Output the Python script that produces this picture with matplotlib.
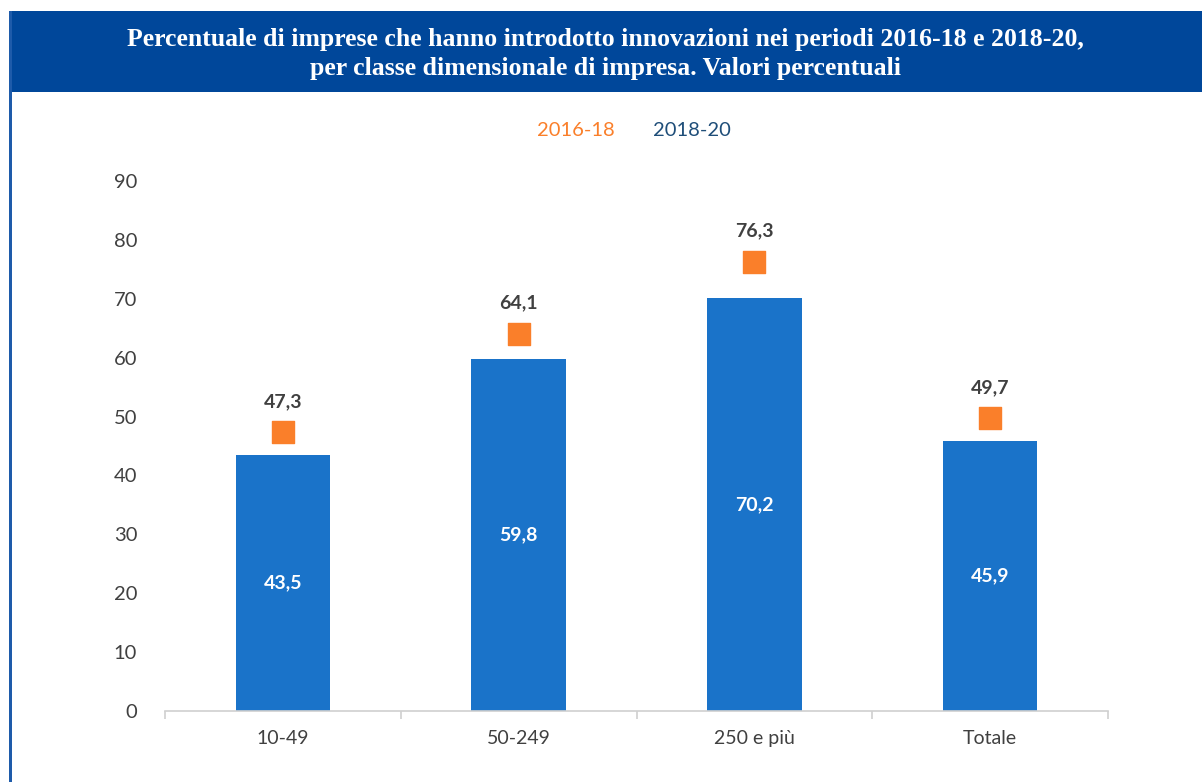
import matplotlib.pyplot as plt
from matplotlib.patches import Rectangle
import numpy as np

# Data
categories = ["10-49", "50-249", "250 e più", "Totale"]
val_2016_18 = [47.3, 64.1, 76.3, 49.7]
val_2018_20 = [43.5, 59.8, 70.2, 45.9]

title = ("Percentuale di imprese che hanno introdotto innovazioni nei periodi 2016-18 e 2018-20,\n"
         "per classe dimensionale di impresa. Valori percentuali")

bar_color = "#1A73C9"
marker_color = "#FA7F2A"
text_gray = "#404040"

plt.rcParams['font.family'] = ['Lato', 'DejaVu Sans']

fig = plt.figure(figsize=(12.02, 7.82), dpi=100)
W, H = 1202, 782

# Header box and left border
fig.patches.append(Rectangle((9 / W, 1 - 92 / H), 1 - 9 / W, 81 / H,
                             transform=fig.transFigure, facecolor="#00479A",
                             edgecolor="none", zorder=0))
fig.patches.append(Rectangle((9 / W, 0), 3 / W, 1 - 11 / H,
                             transform=fig.transFigure, facecolor="#1E5BAA",
                             edgecolor="none", zorder=1))
fig.text(605 / W, 1 - 54 / H, title, ha="center", va="center", color="white",
         fontsize=18.5, fontweight="bold", family="Liberation Serif", linespacing=1.38)

# Legend as coloured text
fig.text(576 / W, 1 - 131 / H, "2016-18", ha="center", va="center",
         color=marker_color, fontsize=14.5)
fig.text(692 / W, 1 - 131 / H, "2018-20", ha="center", va="center",
         color="#1F4E79", fontsize=14.5)

ax = fig.add_axes([165 / W, 1 - 711 / H, (1108 - 165) / W, (711 - 181) / H])
x = np.arange(len(categories))
bars = ax.bar(x, val_2018_20, width=0.4, color=bar_color, zorder=2)
ax.scatter(x, val_2016_18, marker="s", s=250, color=marker_color, zorder=3)

for xi, v in zip(x, val_2018_20):
    ax.text(xi, v / 2, f"{v:.1f}".replace(".", ","), ha="center", va="center",
            color="white", fontsize=14, fontweight="bold")
for xi, v in zip(x, val_2016_18):
    ax.annotate(f"{v:.1f}".replace(".", ","), (xi, v), xytext=(0, 22),
                textcoords="offset points", ha="center", va="center",
                color=text_gray, fontsize=14, fontweight="bold")

ax.set_xlim(-0.5, 3.5)
ax.set_ylim(0, 90)
ax.set_yticks(range(0, 91, 10))
ax.set_xticks(x)
ax.set_xticklabels(categories)
ax.set_xticks(np.arange(-0.5, 4, 1), minor=True)
ax.tick_params(axis="x", which="major", length=0, pad=14, labelsize=14, labelcolor=text_gray)
ax.tick_params(axis="x", which="minor", length=6, color="#D0D0D0", width=1.2)
ax.tick_params(axis="y", length=0, pad=20, labelsize=14.5, labelcolor=text_gray)
for side in ["top", "right", "left"]:
    ax.spines[side].set_visible(False)
ax.spines["bottom"].set_color("#D0D0D0")
ax.spines["bottom"].set_linewidth(1.2)

fig.savefig("out.png", dpi=100)
